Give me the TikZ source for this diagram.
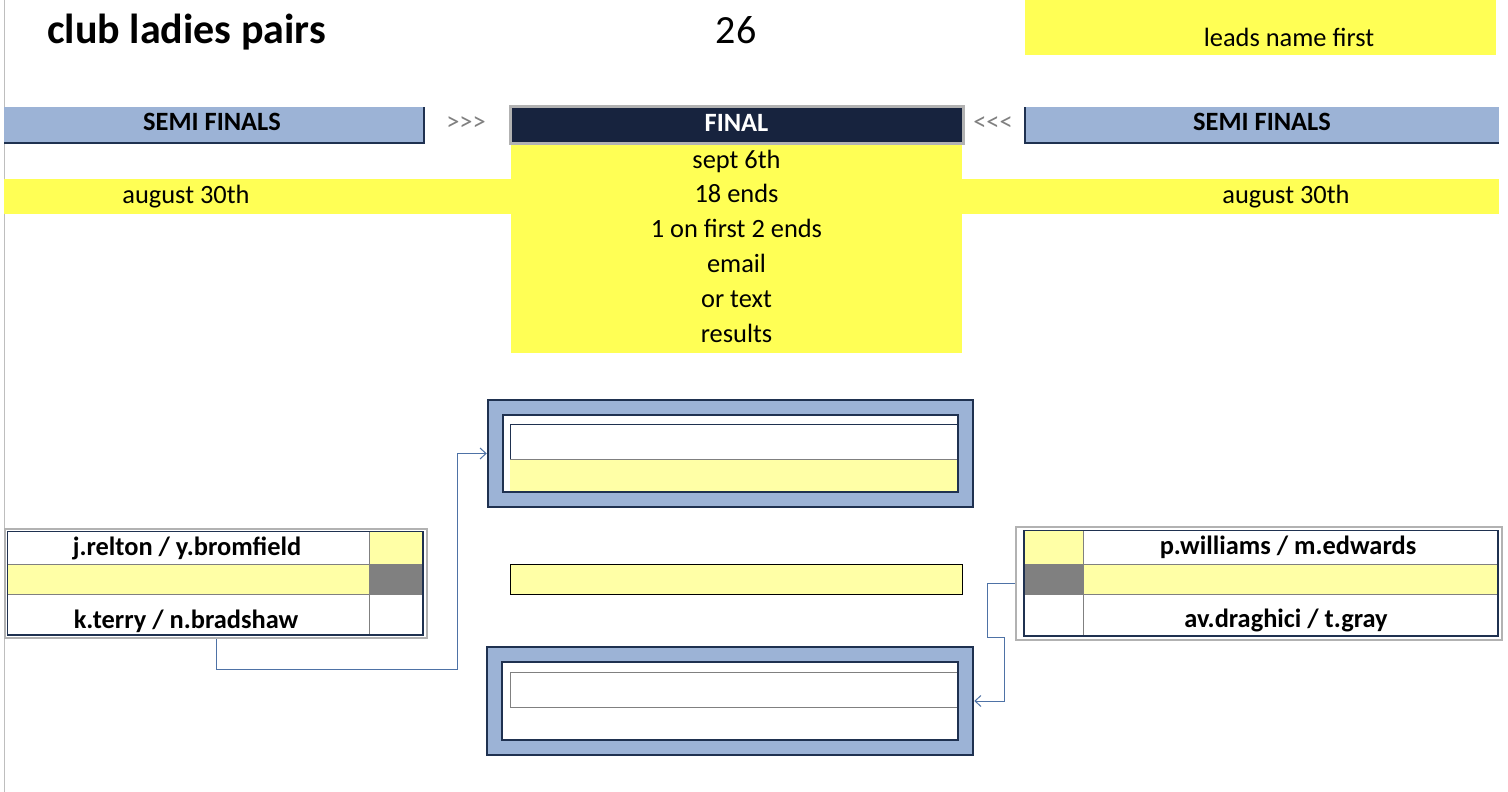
\documentclass[tikz,border=0pt]{standalone}
\usepackage{fontspec}
\setmainfont{Carlito}
\usetikzlibrary{arrows.meta}
\definecolor{semiblue}{RGB}{156,179,214}
\definecolor{navy}{RGB}{31,49,80}
\definecolor{finalnavy}{RGB}{23,35,62}
\definecolor{brightyellow}{RGB}{255,255,85}
\definecolor{lightyellow}{RGB}{255,255,166}
\definecolor{cellgray}{RGB}{128,128,128}
\definecolor{bordergray}{RGB}{178,178,178}
\definecolor{pagegray}{RGB}{190,190,190}
\definecolor{connblue}{RGB}{78,114,166}
\definecolor{chevgray}{RGB}{128,128,128}
\begin{document}
\begin{tikzpicture}[x=1pt,y=-1pt,
  txt/.style={inner sep=0pt, anchor=base, font=\fontsize{26.4}{30}\selectfont},
  btxt/.style={inner sep=0pt, anchor=base, font=\fontsize{26.4}{30}\selectfont\bfseries},
  gridline/.style={draw=cellgray, line width=0.8pt},
  thinnavy/.style={draw=navy, line width=1pt},
  thicknavy/.style={draw=navy, line width=2.5pt},
  tableouter/.style={draw=bordergray, line width=2.5pt, inner sep=0pt},
  finalouter/.style={draw=navy, fill=semiblue, line width=2.5pt, inner sep=0pt},
  conn/.style={draw=connblue, line width=1pt},
  arr/.style={-{Straight Barb[length=6pt,width=11pt]}}]
\useasboundingbox (0,0) rectangle (1508,792);
\fill[white] (0,0) rectangle (1508,792);
% page edge line
\draw[pagegray, line width=1pt] (4,0) -- (4,792);

% title row
\node[inner sep=0pt, anchor=base west, font=\fontsize{42}{46}\selectfont\bfseries] (title) at (47,44) {club ladies pairs};
\node[inner sep=0pt, anchor=base, font=\fontsize{40}{44}\selectfont] (num) at (736,44) {26};
\node[fill=brightyellow, inner sep=0pt, minimum width=471pt, minimum height=55pt] (leadsbox) at (1260.5,27.5) {};
\node[txt] (leads) at (1289,47) {leads name first};

% semi finals bars
\fill[semiblue] (4,107) rectangle (424,143);
\draw[thicknavy] (424,107) -- (424,143) -- (4,143);
\node[btxt] (semiL) at (212,130) {SEMI FINALS};
\node[txt, text=chevgray] (chevL) at (466,130) {>{}>{}>};

\fill[semiblue] (1025,107) rectangle (1499,143);
\draw[thicknavy] (1025,107) -- (1025,143) -- (1499,143);
\node[btxt] (semiR) at (1262,130) {SEMI FINALS};
\node[txt, text=chevgray] (chevR) at (993,130) {<{}<{}<};

% final header and info
\fill[brightyellow] (511,143) rectangle (962,353);
\fill[brightyellow] (4,179) rectangle (511,214);
\fill[brightyellow] (962,179) rectangle (1499,214);
\node[fill=finalnavy, draw=bordergray, line width=3pt, inner sep=0pt, minimum width=453pt, minimum height=37pt] (finalbox) at (736.5,124.5) {};
\node[btxt, text=white] (final) at (736.5,131) {FINAL};
\node[txt] (i1) at (736.5,168) {sept 6th};
\node[txt] (i2) at (736.5,202.8) {18 ends};
\node[txt] (i3) at (736.5,237.6) {1 on first 2 ends};
\node[txt] (i4) at (736.5,272.4) {email};
\node[txt] (i5) at (736.5,307.2) {or text};
\node[txt] (i6) at (736.5,342) {results};
\node[txt] (augL) at (186,203) {august 30th};
\node[txt] (augR) at (1286,203) {august 30th};

% left semi-final table
\node[tableouter, minimum width=422pt, minimum height=109pt] (lt) at (216,583.5) {};
\fill[white] (7,531) rectangle (423,635);
\fill[lightyellow] (369,531) rectangle (423,564);
\fill[lightyellow] (7,564) rectangle (369,594);
\fill[cellgray] (369,564) rectangle (423,594);
\draw[gridline] (7,564) -- (423,564) (7,594) -- (423,594) (369,531) -- (369,635);
\draw[thinnavy] (7,635) -- (7,531) -- (423,531);
\draw[thicknavy] (423,531) -- (423,635) -- (7,635);
\node[btxt] (p1) at (187,555) {j.relton / y.bromfield};
\node[btxt] (p2) at (186,628) {k.terry / n.bradshaw};

% right semi-final table
\node[tableouter, minimum width=486pt, minimum height=113pt] (rt) at (1259,583.5) {};
\fill[white] (1024,530) rectangle (1498,636);
\fill[lightyellow] (1024,530) rectangle (1083,564);
\fill[cellgray] (1024,564) rectangle (1083,594);
\fill[lightyellow] (1083,564) rectangle (1498,594);
\draw[gridline] (1024,564) -- (1498,564) (1024,594) -- (1498,594) (1083,530) -- (1083,636);
\draw[thinnavy] (1024,530) -- (1498,530);
\draw[thicknavy] (1024,530) -- (1024,636) -- (1498,636) -- (1498,530);
\node[btxt] (p3) at (1288,554) {p.williams / m.edwards};
\node[btxt] (p4) at (1286,627) {av.draghici / t.gray};

% final top box
\node[finalouter, minimum width=485pt, minimum height=107pt] (ftop) at (730.5,453.5) {};
\fill[white] (503,415) rectangle (958,492);
\fill[lightyellow] (510,459) rectangle (958,492);
\draw[thinnavy] (510,459) -- (510,424) -- (958,424);
\draw[gridline] (510,459) -- (958,459);
\draw[thicknavy] (503,415) rectangle (958,492);

% middle bar
\node[fill=lightyellow, draw=black, line width=1pt, inner sep=0pt, minimum width=452pt, minimum height=30pt] (mid) at (736,579) {};

% final bottom box
\node[finalouter, minimum width=486pt, minimum height=108pt] (fbot) at (730,701) {};
\fill[white] (502,662) rectangle (958,740);
\draw[gridline] (958,672) -- (510,672) -- (510,707) -- (958,707);
\draw[thicknavy] (502,662) rectangle (958,740);

% connectors
\draw[conn, arr] (lt.south) |- (457,669) |- (ftop.west);
\draw[conn, arr] (rt.west) -| (987,637) -- (1004,637) |- (fbot.east);
\end{tikzpicture}
\end{document}
